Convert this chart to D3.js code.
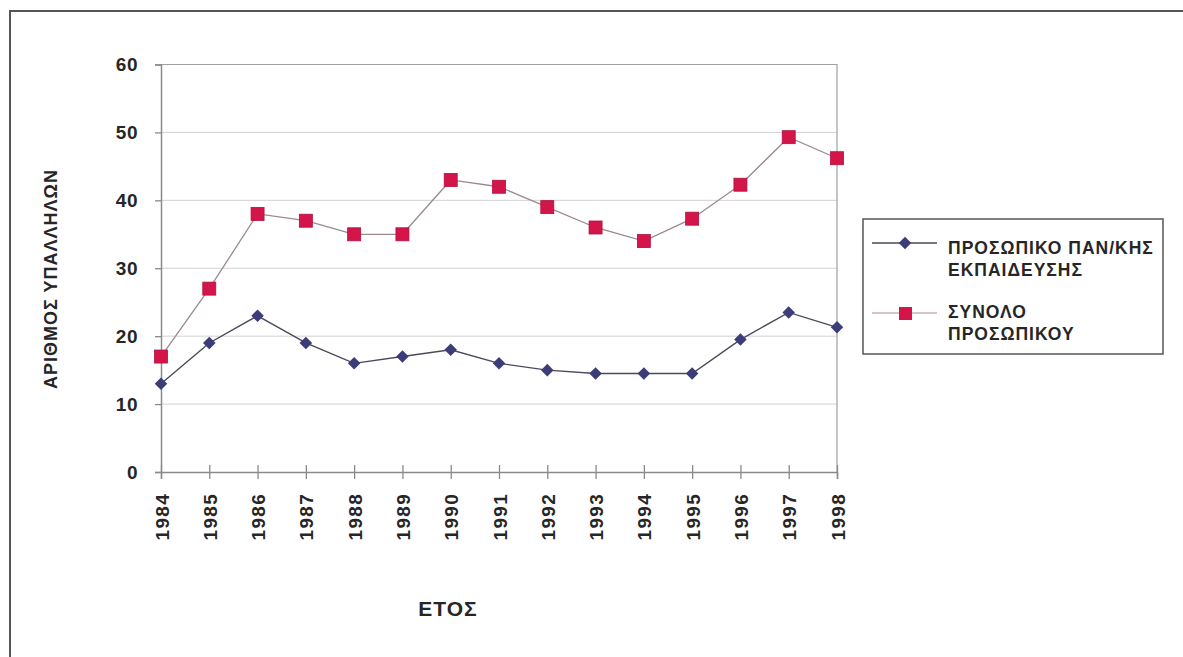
<!DOCTYPE html>
<html>
<head>
<meta charset="utf-8">
<script src="https://cdn.jsdelivr.net/npm/d3@7"></script>
<style>
  html, body { margin: 0; padding: 0; background: #ffffff; }
  svg { display: block; font-family: "Liberation Sans", Arial, sans-serif; }
</style>
</head>
<body>
<svg id="chart" width="1183" height="657"></svg>
<script>
// Years on the horizontal axis
const years = [1984, 1985, 1986, 1987, 1988, 1989, 1990, 1991, 1992, 1993, 1994, 1995, 1996, 1997, 1998];
// Academic staff (ΠΡΟΣΩΠΙΚΟ ΠΑΝ/ΚΗΣ ΕΚΠΑΙΔΕΥΣΗΣ)
const academicStaff = [13, 19, 23, 19, 16, 17, 18, 16, 15, 14.5, 14.5, 14.5, 19.5, 23.5, 21.3];
// Total staff (ΣΥΝΟΛΟ ΠΡΟΣΩΠΙΚΟΥ)
const totalStaff = [17, 27, 38, 37, 35, 35, 43, 42, 39, 36, 34, 37.3, 42.3, 49.3, 46.2];
// Value axis ticks
const yTicks = [0, 10, 20, 30, 40, 50, 60];
// Legend entries
const legendAcademic = ["ΠΡΟΣΩΠΙΚΟ ΠΑΝ/ΚΗΣ", "ΕΚΠΑΙΔΕΥΣΗΣ"];
const legendTotal = ["ΣΥΝΟΛΟ", "ΠΡΟΣΩΠΙΚΟΥ"];

const svg = d3.select("#chart");

// outer frame
svg.append("path")
  .attr("d", "M10,657 L10,11 L1183,11")
  .attr("fill", "none").attr("stroke", "#555").attr("stroke-width", 2);

const plot = { left: 161, right: 837, top: 64.5, bottom: 472 };

const x = d3.scalePoint().domain(years).range([plot.left, plot.right]);
const y = d3.scaleLinear().domain([0, 60]).range([plot.bottom, plot.top]);

// horizontal gridlines
svg.append("g").selectAll("line")
  .data(yTicks.filter(t => t > 0 && t < 60))
  .join("line")
  .attr("x1", plot.left).attr("x2", plot.right)
  .attr("y1", d => y(d)).attr("y2", d => y(d))
  .attr("stroke", "#d2d2d2").attr("stroke-width", 1);

// top and right edges of the plot area
svg.append("path")
  .attr("d", `M${plot.left},${y(60)} L${plot.right},${y(60)} L${plot.right},${plot.bottom}`)
  .attr("fill", "none").attr("stroke", "#a0a0a0").attr("stroke-width", 1.2);

// value axis
const yAxis = svg.append("g")
  .attr("transform", `translate(${plot.left},0)`)
  .call(d3.axisLeft(y).tickValues(yTicks).tickSize(6).tickPadding(17));
yAxis.select(".domain").attr("stroke", "#8a8a8a").attr("stroke-width", 1.5);
yAxis.selectAll(".tick line").attr("stroke", "#8a8a8a").attr("stroke-width", 1.3);
yAxis.selectAll(".tick text")
  .attr("font-size", 19).attr("font-weight", "bold").attr("fill", "#262626")
  .attr("font-family", "Liberation Sans, Arial, sans-serif")
  .attr("letter-spacing", 0.5);

// year axis, ticks crossing the axis line
const xAxis = svg.append("g")
  .attr("transform", `translate(0,${plot.bottom})`)
  .call(d3.axisBottom(x).tickSize(7).tickPadding(0));
xAxis.select(".domain").attr("stroke", "#8a8a8a").attr("stroke-width", 1.5);
xAxis.selectAll(".tick line").attr("y1", -7).attr("y2", 7)
  .attr("stroke", "#8a8a8a").attr("stroke-width", 1.3);
xAxis.selectAll(".tick text")
  .attr("font-size", 19).attr("font-weight", "bold").attr("fill", "#262626")
  .attr("font-family", "Liberation Sans, Arial, sans-serif")
  .attr("letter-spacing", 1.3)
  .attr("text-anchor", "end")
  .attr("dy", null)
  .attr("transform", "translate(7,21) rotate(-90)")
  .attr("x", 0).attr("y", 0);

// axis titles
svg.append("text")
  .attr("transform", "translate(57,279) rotate(-90)")
  .attr("text-anchor", "middle")
  .attr("font-size", 18).attr("font-weight", "bold").attr("fill", "#262626")
  .attr("letter-spacing", 1)
  .text("ΑΡΙΘΜΟΣ ΥΠΑΛΛΗΛΩΝ");

svg.append("text")
  .attr("x", 448).attr("y", 616)
  .attr("text-anchor", "middle")
  .attr("font-size", 21).attr("font-weight", "bold").attr("fill", "#262626")
  .attr("letter-spacing", 1)
  .text("ΕΤΟΣ");

const line = d3.line().x((d, i) => x(years[i])).y(d => y(d));

// total staff series
svg.append("path").datum(totalStaff)
  .attr("d", line).attr("fill", "none")
  .attr("stroke", "#9a8a90").attr("stroke-width", 1.3);
svg.append("g").selectAll("rect")
  .data(totalStaff).join("rect")
  .attr("x", (d, i) => x(years[i]) - 6.5).attr("y", d => y(d) - 6.5)
  .attr("width", 13).attr("height", 13)
  .attr("fill", "#d4154a").attr("stroke", "#b01040").attr("stroke-width", 0.8);

// academic staff series
svg.append("path").datum(academicStaff)
  .attr("d", line).attr("fill", "none")
  .attr("stroke", "#4a4a5a").attr("stroke-width", 1.4);
const diamond = d3.symbol().type(d3.symbolDiamond2).size(100);
svg.append("g").selectAll("path")
  .data(academicStaff).join("path")
  .attr("d", diamond)
  .attr("transform", (d, i) => `translate(${x(years[i])},${y(d)})`)
  .attr("fill", "#3c3c78");

// legend
const lg = svg.append("g");
lg.append("rect")
  .attr("x", 863).attr("y", 219).attr("width", 300).attr("height", 135)
  .attr("fill", "#ffffff").attr("stroke", "#555").attr("stroke-width", 1.5);

lg.append("line").attr("x1", 872).attr("x2", 937).attr("y1", 243).attr("y2", 243)
  .attr("stroke", "#4a4a5a").attr("stroke-width", 1.4);
lg.append("path").attr("d", diamond).attr("transform", "translate(905,243)").attr("fill", "#3c3c78");

lg.append("line").attr("x1", 872).attr("x2", 937).attr("y1", 313).attr("y2", 313)
  .attr("stroke", "#c8b0b8").attr("stroke-width", 1.3);
lg.append("rect").attr("x", 899).attr("y", 307).attr("width", 13).attr("height", 13)
  .attr("fill", "#d4154a");

const legendText = (lines, y0) => {
  lg.append("g").selectAll("text").data(lines).join("text")
    .attr("x", 948).attr("y", (d, i) => y0 + i * 22)
    .attr("font-size", 17.5).attr("font-weight", "bold").attr("fill", "#262626")
    .attr("letter-spacing", 1)
    .text(d => d);
};
legendText(legendAcademic, 254);
legendText(legendTotal, 318);
</script>
</body>
</html>
